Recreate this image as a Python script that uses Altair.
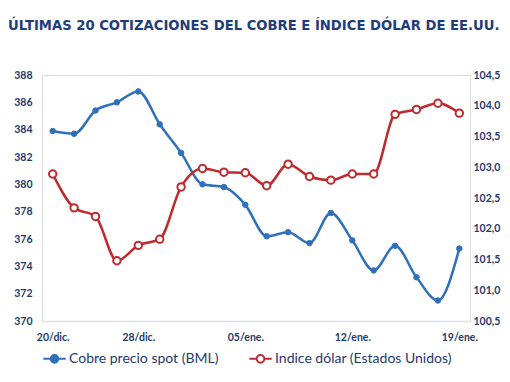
import altair as alt
import pandas as pd

fechas = ["20/dic.", "21/dic.", "22/dic.", "23/dic.", "28/dic.", "29/dic.", "30/dic.", "31/dic.",
          "04/ene.", "05/ene.", "06/ene.", "07/ene.", "10/ene.", "11/ene.", "12/ene.", "13/ene.",
          "14/ene.", "17/ene.", "18/ene.", "19/ene."]
cobre = [383.9, 383.7, 385.4, 386.0, 386.8, 384.4, 382.3, 380.0, 379.8, 378.5,
         376.2, 376.5, 375.7, 377.9, 375.9, 373.7, 375.5, 373.2, 371.5, 375.3]
indice = [102.89, 102.34, 102.20, 101.48, 101.73, 101.83, 102.68, 102.98, 102.92, 102.91,
          102.70, 103.05, 102.85, 102.79, 102.89, 102.89, 103.86, 103.94, 104.04, 103.88]
series = ["Cobre precio spot (BML)", "Indice dólar (Estados Unidos)"]
x_labels = ["20/dic.", "28/dic.", "05/ene.", "12/ene.", "19/ene."]
left_ticks = [370, 372, 374, 376, 378, 380, 382, 384, 386, 388]
right_ticks = [100.5, 101.0, 101.5, 102.0, 102.5, 103.0, 103.5, 104.0, 104.5]

BLUE = "#3070B8"
RED = "#C0292E"
NAVY = "#1F3A6E"

df = pd.DataFrame({
    "fecha": fechas * 2,
    "serie": [series[0]] * len(fechas) + [series[1]] * len(fechas),
    "valor": cobre + indice,
})

x = alt.X("fecha:N", sort=fechas, title=None,
          scale=alt.Scale(type="point", padding=0.5),
          axis=alt.Axis(values=x_labels, labelAngle=0, ticks=False, domain=True,
                        domainColor="#D9E1EA", domainWidth=1.5, grid=False,
                        labelPadding=11, labelColor=NAVY, labelFont="Lato",
                        labelFontWeight="bold", labelFontSize=10.5))

legend_path = ("M-1,0L-0.34,0M0.34,0L1,0"
               "M-0.34,0A0.34,0.34,0,1,0,0.34,0A0.34,0.34,0,1,0,-0.34,0Z")

def make_legend():
    return alt.Legend(title=None, orient="bottom", direction="horizontal",
                      symbolType=legend_path, symbolSize=500,
                      symbolStrokeWidth=2, columnPadding=26, labelLimit=400,
                      labelFont="Lato", labelFontSize=14, labelColor=NAVY,
                      labelOffset=2, offset=3)

stroke = alt.Stroke("serie:N", scale=alt.Scale(domain=series, range=[BLUE, RED]),
                    legend=make_legend())
fill = alt.Fill("serie:N", scale=alt.Scale(domain=series, range=[BLUE, "white"]),
                legend=make_legend())

y_left = alt.Y("valor:Q", title=None,
               scale=alt.Scale(domain=[370, 388], nice=False, zero=False),
               axis=alt.Axis(orient="left", values=left_ticks, grid=False, ticks=False,
                             domain=False, labelPadding=10, labelColor=NAVY,
                             labelFont="Lato", labelFontWeight="bold", labelFontSize=10.5))
y_right = alt.Y("valor:Q", title=None,
                scale=alt.Scale(domain=[100.5, 104.5], nice=False, zero=False),
                axis=alt.Axis(orient="right", values=right_ticks, grid=False, ticks=False,
                              domain=False, labelPadding=3, labelColor=NAVY,
                              labelFont="Lato", labelFontWeight="bold", labelFontSize=10.5,
                              labelExpr="replace(format(datum.value, '.1f'), '.', ',')"))

base = alt.Chart(df)

blue = base.transform_filter(alt.datum.serie == series[0])
blue_line = blue.mark_line(color=BLUE, strokeWidth=2.5, interpolate="monotone").encode(x=x, y=y_left)
blue_pts = blue.mark_point(filled=True, size=30, strokeWidth=1, opacity=1).encode(
    x=x, y=y_left, stroke=stroke, fill=fill)
left_layer = alt.layer(blue_line, blue_pts)

red = base.transform_filter(alt.datum.serie == series[1])
red_line = red.mark_line(color=RED, strokeWidth=2.5, interpolate="monotone").encode(x=x, y=y_right)
red_pts = red.mark_point(filled=True, size=55, strokeWidth=2, opacity=1).encode(
    x=x, y=y_right, stroke=stroke, fill=fill)
right_layer = alt.layer(red_line, red_pts)

chart = alt.layer(left_layer, right_layer).resolve_scale(y="independent").properties(
    width=428, height=246,
    autosize=alt.AutoSizeParams(type="none"),
    padding={"left": 34, "top": 67, "right": 32, "bottom": 48},
    title=alt.Title("ÚLTIMAS 20 COTIZACIONES DEL COBRE E ÍNDICE DÓLAR DE EE.UU.",
                    anchor="start", frame="group", font="DejaVu Sans", fontWeight="bold",
                    fontSize=13.2, color="#1F3D7A", offset=37, dx=-34),
).configure_view(stroke=None).configure(background="white")

chart.save("out.html", embed_options={"renderer": "svg", "actions": False})
